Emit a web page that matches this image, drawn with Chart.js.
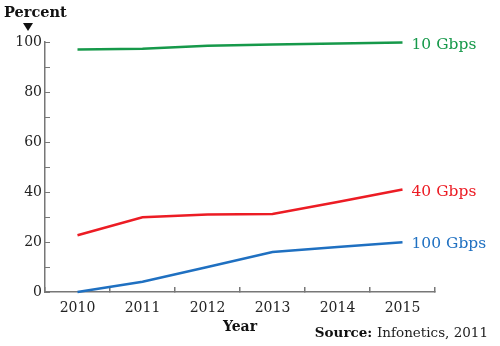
<!DOCTYPE html>
<html>
<head>
<meta charset="utf-8">
<script src="https://cdn.jsdelivr.net/npm/chart.js@4"></script>
<style>
  html, body { margin: 0; padding: 0; background: #fff; }
  #wrap { width: 500px; height: 346px; }
</style>
</head>
<body>
<div id="wrap"><canvas id="graphique"></canvas></div>
<script>
// données (pourcentage par année)
const annees = ['2010', '2011', '2012', '2013', '2014', '2015'];
const gbps10 = [97, 97.3, 98.5, 99, 99.4, 99.8];
const gbps40 = [22.7, 29.9, 31, 31.2, 36, 41];
const gbps100 = [0, 4.1, 10, 16, 18, 19.9];
const nomsSeries = ['10 Gbps', '40 Gbps', '100 Gbps'];
const couleurs = ['#16994a', '#ec1c24', '#1f70c1'];
const graduations = [0, 10, 20, 30, 40, 50, 60, 70, 80, 90, 100];

const police = 'DejaVu Serif';

// étiquettes en bout de ligne, titre "Percent", source et petites graduations
const etiquettes = {
    id: 'etiquettes',
    afterDraw(chart) {
        const ctx = chart.ctx;
        ctx.save();

        // graduations vers l'intérieur sur l'axe vertical
        const y = chart.scales.y;
        ctx.strokeStyle = '#777';
        ctx.lineWidth = 1;
        graduations.forEach(v => {
            const py = Math.round(y.getPixelForValue(v)) + 0.5;
            ctx.beginPath();
            ctx.moveTo(y.right, py);
            ctx.lineTo(y.right + 5, py);
            ctx.stroke();
        });

        chart.data.datasets.forEach((ds, i) => {
            const meta = chart.getDatasetMeta(i);
            const pt = meta.data[meta.data.length - 1];
            ctx.font = '15.5px "' + police + '"';
            ctx.fillStyle = ds.borderColor;
            ctx.textBaseline = 'middle';
            ctx.textAlign = 'left';
            ctx.fillText(nomsSeries[i], pt.x + 9, pt.y + 2);
        });

        // titre de l'axe vertical
        ctx.fillStyle = '#111';
        ctx.font = 'bold 14.5px "' + police + '"';
        ctx.textAlign = 'left';
        ctx.textBaseline = 'middle';
        ctx.fillText('Percent', 4, 13);
        ctx.beginPath();
        ctx.moveTo(23, 23);
        ctx.lineTo(33, 23);
        ctx.lineTo(28, 31);
        ctx.closePath();
        ctx.fill();

        // source
        ctx.font = 'bold 13.5px "' + police + '"';
        const s1 = 'Source: ';
        const w1 = ctx.measureText(s1).width;
        ctx.font = '13.5px "' + police + '"';
        const s2 = 'Infonetics, 2011';
        const w2 = ctx.measureText(s2).width;
        const x0 = 488 - w1 - w2;
        ctx.font = 'bold 13.5px "' + police + '"';
        ctx.fillText(s1, x0, 333);
        ctx.font = '13.5px "' + police + '"';
        ctx.fillStyle = '#222';
        ctx.fillText(s2, x0 + w1, 333);
        ctx.restore();
    }
};

const ctx = document.getElementById('graphique').getContext('2d');
new Chart(ctx, {
    type: 'line',
    data: {
        labels: annees,
        datasets: [
            { data: gbps10, borderColor: couleurs[0] },
            { data: gbps40, borderColor: couleurs[1] },
            { data: gbps100, borderColor: couleurs[2] }
        ].map(d => Object.assign(d, {
            borderWidth: 2.5,
            pointRadius: 0,
            fill: false,
            tension: 0,
            clip: false
        }))
    },
    options: {
        responsive: true,
        maintainAspectRatio: false,
        animation: false,
        layout: { padding: { left: 0, right: 65, top: 42, bottom: 0 } },
        plugins: {
            legend: { display: false },
            tooltip: { enabled: false }
        },
        scales: {
            x: {
                offset: true,
                grid: {
                    offset: true,
                    drawOnChartArea: false,
                    tickLength: -5,
                    color: '#777',
                    lineWidth: 1.5
                },
                border: { color: '#777', width: 1.5 },
                ticks: {
                    color: '#222',
                    font: { family: police, size: 14 },
                    padding: 13,
                    maxRotation: 0
                },
                title: {
                    display: true,
                    text: 'Year',
                    color: '#111',
                    font: { family: police, size: 14, weight: 'bold' },
                    padding: { top: 4, bottom: 10 }
                },
                afterFit(scale) { scale.height = 54; }
            },
            y: {
                min: 0,
                max: 100,
                grid: {
                    drawOnChartArea: false,
                    drawTicks: false
                },
                border: { color: '#777', width: 1.5 },
                ticks: {
                    stepSize: 20,
                    color: '#222',
                    font: { family: police, size: 14 },
                    padding: 3
                },
                afterFit(scale) { scale.width = 45; }
            }
        }
    },
    plugins: [etiquettes]
});
</script>
</body>
</html>
